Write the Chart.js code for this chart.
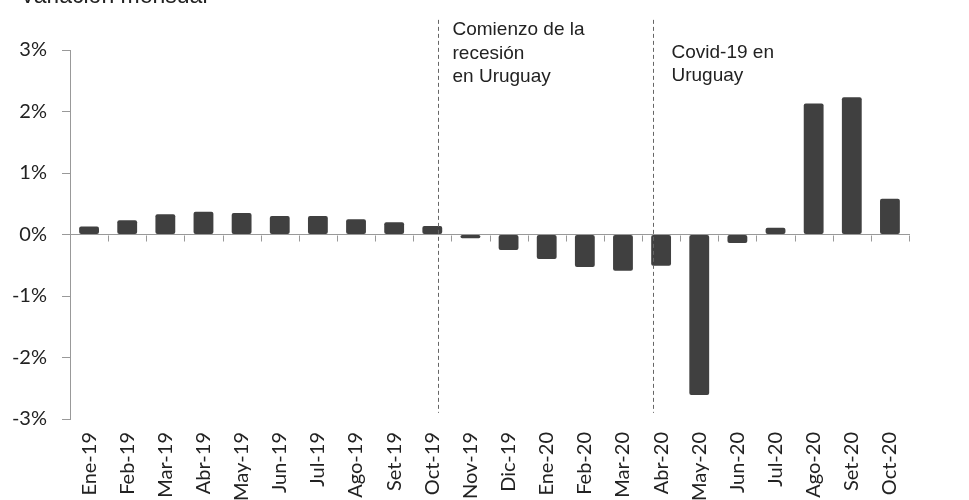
<!DOCTYPE html>
<html>
<head>
<meta charset="utf-8">
<script src="https://cdn.jsdelivr.net/npm/chart.js@4/dist/chart.umd.min.js"></script>
<style>
    body { margin: 0; background: #fff; overflow: hidden; }
    #wrap { position: relative; width: 969px; height: 520px; }
    #title { position: absolute; left: 20px; top: -16px; font: 23px "Liberation Sans", Arial, sans-serif; color: #222; line-height: 23px; }
</style>
</head>
<body>
<div id="wrap">
    <div id="title">Variación mensual</div>
    <canvas id="chart"></canvas>
</div>
<script>
// meses y variación mensual (%)
var months = ['Ene-19', 'Feb-19', 'Mar-19', 'Abr-19', 'May-19', 'Jun-19', 'Jul-19', 'Ago-19', 'Set-19', 'Oct-19', 'Nov-19',
    'Dic-19', 'Ene-20', 'Feb-20', 'Mar-20', 'Abr-20', 'May-20', 'Jun-20', 'Jul-20', 'Ago-20', 'Set-20', 'Oct-20'];
var variation = [0.13, 0.23, 0.33, 0.37, 0.35, 0.30, 0.30, 0.25, 0.20, 0.14, -0.06,
    -0.25, -0.40, -0.53, -0.59, -0.51, -2.61, -0.14, 0.11, 2.13, 2.23, 0.58];
var yTicks = [-3, -2, -1, 0, 1, 2, 3];

// lineas punteadas (posición en el eje de categorías) y sus notas
var markerPositions = [9.16, 14.79];
var markerNotes = [
    ['Comienzo de la', 'recesión', 'en Uruguay'],
    ['Covid-19 en', 'Uruguay']
];
var noteStart = [3.24, 2.87];

var markerPlugin = {
    id: 'markers',
    afterDatasetsDraw: function(chart) {
        var ctx = chart.ctx;
        var x = chart.scales.x;
        var y = chart.scales.y;
        ctx.save();

        // marcas del eje en cada límite de categoría, sobre la línea del 0
        var zero = Math.round(y.getPixelForValue(0)) + 0.5;
        ctx.strokeStyle = '#999';
        ctx.lineWidth = 1;
        for (var k = 0; k <= months.length; k++) {
            var tx = Math.round(x.getPixelForValue(k - 0.5)) + 0.5;
            ctx.beginPath();
            ctx.moveTo(tx, zero);
            ctx.lineTo(tx, zero + 6);
            ctx.stroke();
        }

        ctx.strokeStyle = '#666';
        ctx.setLineDash([4, 3]);
        markerPositions.forEach(function(pos, i) {
            var px = Math.round(x.getPixelForValue(pos)) + 0.5;
            ctx.beginPath();
            ctx.moveTo(px, y.getPixelForValue(3.49));
            ctx.lineTo(px, y.getPixelForValue(-2.9));
            ctx.stroke();

            ctx.fillStyle = '#222';
            ctx.font = '19px "Liberation Sans", Arial, sans-serif';
            ctx.textBaseline = 'alphabetic';
            var ty = y.getPixelForValue(noteStart[i]);
            markerNotes[i].forEach(function(line, j) {
                ctx.fillText(line, px + (i === 0 ? 14 : 18), ty + j * 23.5);
            });
        });
        ctx.restore();
    }
};

var ctx = document.querySelector('#chart');
var myChart = new Chart(ctx, {
    type: 'bar',
    data: {
        labels: months,
        datasets: [{
            data: variation,
            backgroundColor: '#404040',
            borderRadius: 2,
            borderSkipped: false,
            categoryPercentage: 1,
            barPercentage: 0.52
        }]
    },
    options: {
        responsive: true,
        maintainAspectRatio: false,
        animation: false,
        layout: {
            padding: { top: 50, right: 60, left: 0, bottom: 0 }
        },
        plugins: {
            legend: { display: false },
            tooltip: { enabled: false }
        },
        scales: {
            x: {
                position: 'bottom',
                grid: { display: false, drawTicks: false },
                border: { display: false },
                ticks: {
                    minRotation: 90,
                    maxRotation: 90,
                    autoSkip: false,
                    padding: 13,
                    color: '#222',
                    font: { family: 'Lato', size: 20 }
                },
                afterFit: function(scale) { scale.height = 101; }
            },
            x2: {
                type: 'category',
                labels: months,
                position: { y: 0 },
                offset: true,
                grid: { offset: true, drawOnChartArea: false, drawTicks: false },
                border: { color: '#999' },
                ticks: { display: false },
                afterFit: function(scale) { scale.height = 0; }
            },
            y: {
                min: -3,
                max: 3,
                afterBuildTicks: function(scale) {
                    scale.ticks = yTicks.map(function(v) { return { value: v }; });
                },
                grid: { drawOnChartArea: false, tickLength: 8, color: '#999' },
                border: { color: '#999' },
                ticks: {
                    padding: 15,
                    color: '#222',
                    font: { family: 'Lato', size: 20 },
                    callback: function(v) { return v + '%'; }
                },
                afterFit: function(scale) { scale.width = 70; }
            }
        }
    },
    plugins: [markerPlugin]
});
</script>
</body>
</html>
